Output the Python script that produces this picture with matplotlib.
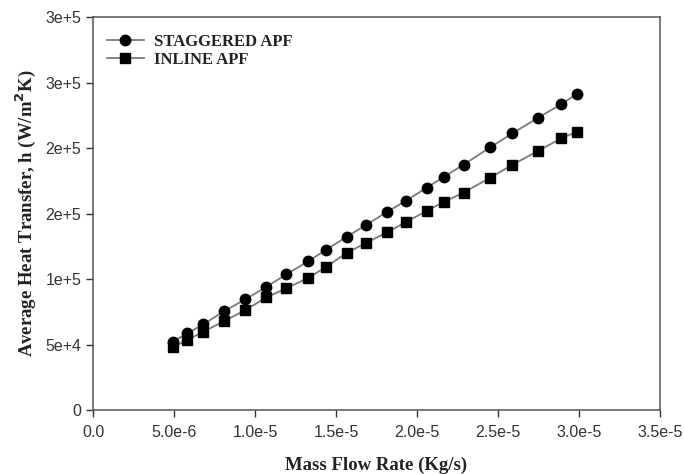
import matplotlib
matplotlib.use("Agg")
import matplotlib.pyplot as plt

# Data
mass_flow = [4.92e-6, 5.80e-6, 6.81e-6, 8.10e-6, 9.41e-6, 1.070e-5, 1.194e-5,
             1.330e-5, 1.435e-5, 1.568e-5, 1.682e-5, 1.813e-5, 1.932e-5, 2.060e-5,
             2.164e-5, 2.287e-5, 2.451e-5, 2.588e-5, 2.744e-5, 2.889e-5, 2.985e-5]
staggered_h = [52100, 58500, 65400, 75600, 84500, 94100, 103600, 113700, 122100,
               132400, 141000, 151100, 159800, 169700, 177900, 187300, 200500,
               211200, 222900, 233400, 241200]
inline_h = [47900, 53400, 59800, 67900, 76300, 86000, 92900, 101000, 108900,
            120200, 127300, 135600, 143500, 152100, 158800, 166000, 177300,
            187200, 197600, 207300, 212400]

x_ticks = [0, 5e-6, 1e-5, 1.5e-5, 2e-5, 2.5e-5, 3e-5, 3.5e-5]
x_tick_labels = ["0.0", "5.0e-6", "1.0e-5", "1.5e-5", "2.0e-5", "2.5e-5", "3.0e-5", "3.5e-5"]
y_ticks = [0, 50000, 100000, 150000, 200000, 250000, 300000]
y_tick_labels = ["0", "5e+4", "1e+5", "2e+5", "2e+5", "3e+5", "3e+5"]

fig = plt.figure(figsize=(6.84, 4.74), dpi=100)
ax = fig.add_axes([0.136, 0.135, 0.829, 0.829])

ax.plot(mass_flow, staggered_h, '-o', color='#7a7a7a', lw=1.3, ms=7.5,
        mfc='black', mec='black', label='STAGGERED APF')
ax.plot(mass_flow, inline_h, '-s', color='#7a7a7a', lw=1.3, ms=6.5,
        mfc='black', mec='black', label='INLINE APF')

ax.set_xlim(0, 3.5e-5)
ax.set_ylim(0, 300000)
ax.set_xticks(x_ticks)
ax.set_xticklabels(x_tick_labels)
ax.set_yticks(y_ticks)
ax.set_yticklabels(y_tick_labels)
ax.tick_params(direction='out', length=5, width=1, colors='#333333',
               labelsize=11.5, labelcolor='#333333')
ax.tick_params(axis='x', pad=6)
for lab in ax.get_xticklabels() + ax.get_yticklabels():
    lab.set_fontfamily('Liberation Sans')

for s in ax.spines.values():
    s.set_color('#555555')
    s.set_linewidth(1.1)

serif = {'family': 'Liberation Serif', 'weight': 'bold', 'size': 13.5}
ax.set_xlabel('Mass Flow Rate (Kg/s)', fontdict=serif, labelpad=12, color='#222222')
ax.set_ylabel('Average Heat Transfer, h (W/m$^\\mathbf{2}$K)', fontdict=serif,
              labelpad=5, color='#222222')

leg = ax.legend(loc='upper left', bbox_to_anchor=(-0.005, 1.0), frameon=False,
                prop={'family': 'Liberation Serif', 'weight': 'bold', 'size': 12},
                handlelength=2.2, handletextpad=0.6, labelspacing=0.15,
                borderaxespad=0.6)
for t in leg.get_texts():
    t.set_color('#222222')

fig.savefig('out.png', dpi=100)
